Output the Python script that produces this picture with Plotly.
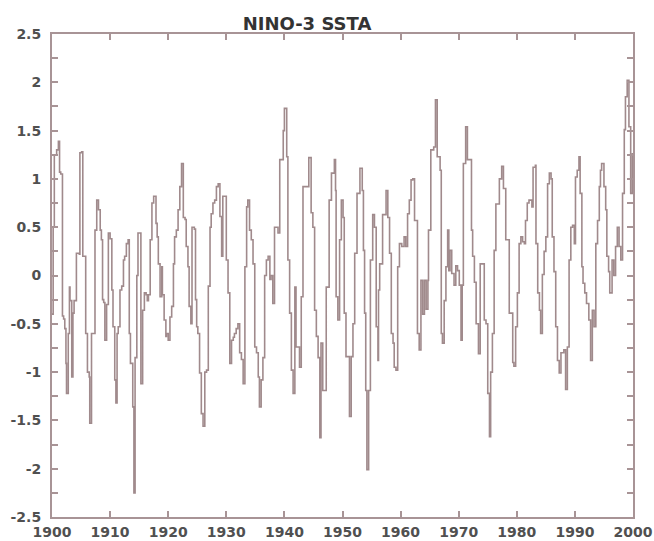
import plotly.graph_objects as go

years = [
    1900.0, 1900.2, 1900.4, 1900.8, 1901.1, 1901.3, 1901.5, 1901.8, 1902.0, 1902.2,
    1902.4, 1902.5, 1902.8, 1903.0, 1903.1, 1903.4, 1903.6, 1903.8, 1904.1, 1904.2,
    1904.7, 1904.8, 1905.1, 1905.3, 1905.7, 1905.8, 1906.1, 1906.4, 1906.5, 1906.8,
    1907.1, 1907.4, 1907.7, 1908.0, 1908.3, 1908.5, 1908.7, 1908.9, 1909.1, 1909.4,
    1909.7, 1910.0, 1910.3, 1910.5, 1910.8, 1911.0, 1911.2, 1911.4, 1911.7, 1912.0,
    1912.3, 1912.5, 1912.8, 1913.1, 1913.3, 1913.5, 1913.9, 1914.1, 1914.3, 1914.6,
    1914.8, 1915.1, 1915.3, 1915.6, 1915.9, 1916.2, 1916.4, 1916.6, 1916.9, 1917.2,
    1917.5, 1917.9, 1918.1, 1918.3, 1918.6, 1918.9, 1919.0, 1919.3, 1919.6,
    1919.7, 1920.0, 1920.3, 1920.6, 1920.9, 1921.1, 1921.4, 1921.7, 1922.0, 1922.3,
    1922.6, 1922.9, 1923.1, 1923.4, 1923.6, 1923.9, 1924.1, 1924.5, 1924.7, 1924.9,
    1925.1, 1925.4, 1925.7, 1926.0, 1926.3, 1926.6, 1926.9, 1927.2, 1927.4, 1927.7,
    1928.0, 1928.3, 1928.6, 1928.9, 1929.2, 1929.4, 1929.7, 1930.0, 1930.3, 1930.6,
    1930.9, 1931.2, 1931.4, 1931.7, 1932.0, 1932.3, 1932.6, 1932.9, 1933.2, 1933.5,
    1933.7, 1934.0, 1934.3, 1934.6, 1934.9, 1935.2, 1935.5, 1935.7, 1936.0, 1936.3,
    1936.6, 1936.9, 1937.2, 1937.5, 1937.7, 1938.0, 1938.3, 1938.6, 1938.9, 1939.2,
    1939.5, 1939.8, 1940.0, 1940.4, 1940.6, 1940.9, 1941.2, 1941.5, 1941.8, 1942.0,
    1942.6, 1942.9, 1943.2, 1943.8, 1944.2, 1944.6, 1944.9, 1945.2, 1945.5, 1945.8,
    1946.1, 1946.3, 1946.6, 1946.9, 1947.2, 1947.7, 1948.1, 1948.6, 1948.8, 1948.9,
    1949.2, 1949.5, 1949.8, 1950.1, 1950.3, 1950.6, 1950.9, 1951.2, 1951.5, 1951.8,
    1952.1, 1952.5, 1953.0, 1953.4, 1953.6, 1953.8, 1954.0, 1954.2, 1954.5, 1954.8,
    1955.2, 1955.5, 1955.8, 1956.1, 1956.2, 1956.4, 1956.9, 1957.5, 1957.8, 1958.1,
    1958.4, 1958.7, 1958.9, 1959.2, 1959.5, 1959.8, 1960.2, 1960.6, 1960.9, 1961.2,
    1961.5, 1961.8, 1962.1, 1962.4, 1962.7, 1962.9, 1963.2, 1963.5, 1963.8, 1964.1,
    1964.4, 1964.7, 1964.8, 1965.2, 1965.7, 1966.0, 1966.3, 1966.8, 1967.0, 1967.2,
    1967.5, 1967.8, 1968.1, 1968.3, 1968.5, 1968.8, 1969.2, 1969.5, 1969.8, 1970.1,
    1970.4, 1970.6, 1970.8, 1971.2, 1971.5, 1972.0, 1972.2, 1972.4, 1972.7, 1973.0,
    1973.4, 1973.7, 1974.1, 1974.4, 1974.7, 1975.0, 1975.3, 1975.5, 1975.8, 1976.1,
    1976.4, 1977.0, 1977.4, 1977.7, 1978.1, 1978.7, 1979.3, 1979.5, 1979.8, 1980.1,
    1980.4, 1980.7, 1981.0, 1981.3, 1981.5, 1981.8, 1982.1, 1982.6, 1982.8, 1983.2,
    1983.3, 1983.6, 1983.9, 1984.1, 1984.4, 1984.7, 1985.0, 1985.3, 1985.6, 1985.9,
    1986.1, 1986.4, 1986.7, 1987.0, 1987.3, 1987.6, 1987.9, 1988.1, 1988.4, 1988.7,
    1989.0, 1989.3, 1989.6, 1989.9, 1990.1, 1990.4, 1990.7, 1990.9, 1991.2, 1991.4,
    1991.7, 1992.0, 1992.4, 1992.7, 1993.0, 1993.3, 1993.6, 1993.9, 1994.2, 1994.4,
    1994.6, 1995.0, 1995.3, 1995.5, 1995.8, 1996.0, 1996.4, 1996.7, 1997.0, 1997.3,
    1997.6, 1997.9, 1998.2, 1998.5, 1998.7, 1999.0, 1999.3, 1999.6, 1999.9, 2000.0,
]

ssta = [
    -0.40, 0.50, 1.25, 1.30, 1.39, 1.07, 1.05, -0.42, -0.45, -0.55,
    -0.91, -1.22, -0.60, -0.12, -0.26, -1.05, -0.39, -0.26, -0.26, 0.23,
    0.22, 1.27, 1.28, 0.20, 0.20, -0.60, -1.00, -1.05, -1.53, -0.60,
    -0.60, 0.47, 0.78, 0.68, 0.47, 0.37, -0.25, -0.28, -0.67, -0.30,
    0.44, 0.38, -0.15, -0.53, -1.08, -1.32, -0.60, -0.53, -0.15, -0.11,
    0.16, 0.20, 0.33, 0.37, -0.60, -0.91, -1.36, -2.25, -0.85, 0.00,
    0.44, 0.44, -1.12, -0.36, -0.18, -0.20, -0.26, -0.20, 0.37, 0.75,
    0.82, 0.54, 0.40, 0.12, -0.22, 0.09, -0.20, -0.46, -0.63,
    -0.60, -0.67, -0.43, -0.32, 0.12, 0.40, 0.47, 0.68, 0.92, 1.16,
    0.60, 0.58, 0.30, 0.09, -0.32, -0.50, 0.50, 0.48, -0.25, -0.53,
    -0.60, -1.01, -1.43, -1.56, -1.00, -0.98, -0.11, 0.50, 0.64, 0.75,
    0.78, 0.92, 0.95, 0.61, 0.20, 0.82, 0.82, 0.16, -0.18, -0.91,
    -0.67, -0.64, -0.60, -0.55, -0.50, -0.80, -0.87, -1.12, 0.09, 0.71,
    0.78, 0.47, 0.37, 0.12, -0.74, -0.80, -1.05, -1.36, -1.08, -0.85,
    0.00, 0.16, 0.20, -0.04, 0.00, -0.29, 0.50, 0.50, 0.44, 1.20,
    1.20, 1.50, 1.73, 1.23, 0.16, -0.39, -0.98, -1.22, -0.12, -0.74,
    -0.95, -0.22, 0.92, 0.92, 1.22, 0.65, 0.50, -0.36, -0.63, -0.85,
    -1.68, -0.70, -1.19, -1.19, -0.12, 0.78, 1.06, 1.20, 0.88, -0.22,
    -0.46, 0.37, 0.78, 0.60, -0.39, -0.84, -0.84, -1.46, -0.84, -0.50,
    0.23, 0.85, 1.11, 0.88, 0.26, -0.39, -1.19, -2.01, -1.19, 0.16,
    0.63, 0.50, -0.53, -0.88, -0.15, 0.12, 0.63, 0.88, 0.60, 0.23,
    -0.60, -0.70, -0.95, -0.98, 0.09, 0.33, 0.30, 0.40, 0.30, 0.64,
    0.78, 0.99, 1.00, 0.57, 0.57, -0.60, -0.77, -0.05, -0.40, -0.05,
    -0.35, -0.05, 0.47, 1.30, 1.33, 1.82, 1.23, 1.09, -0.60, -0.70,
    -0.26, 0.09, 0.47, 0.05, 0.26, 0.02, -0.10, 0.10, 0.05, -0.10,
    -0.67, -0.10, 1.16, 1.54, 1.20, 1.20, 0.47, 0.20, -0.07, -0.50,
    -0.81, 0.12, 0.12, -0.46, -0.50, -1.22, -1.67, -1.00, -0.60, 0.26,
    0.74, 1.00, 1.13, 0.90, 0.37, -0.39, -0.90, -0.94, -0.53, -0.18,
    0.33, 0.40, 0.35, 0.33, 0.57, 0.75, 0.78, 0.71, 1.12, 1.14,
    0.33, -0.18, -0.36, -0.60, 0.01, 0.25, 0.40, 0.95, 1.06, 1.00,
    0.40, 0.04, -0.53, -0.88, -1.01, -0.80, -0.80, -0.77, -1.18, -0.74,
    0.16, 0.50, 0.52, 0.33, 1.02, 1.09, 1.23, 0.85, 0.09, -0.08,
    -0.18, -0.29, -0.46, -0.88, -0.36, -0.53, 0.33, 0.57, 0.92, 1.09,
    1.16, 0.92, 0.68, 0.20, 0.04, -0.18, 0.16, 0.00, 0.30, 0.50,
    0.30, 0.16, 0.85, 1.51, 1.85, 2.02, 1.54, 0.85, 1.26, 0.99,
]

x_ticks = [1900, 1910, 1920, 1930, 1940, 1950, 1960, 1970, 1980, 1990, 2000]
y_ticks = [2.5, 2, 1.5, 1, 0.5, 0, -0.5, -1, -1.5, -2, -2.5]
y_labels = ["2.5", "2", "1.5", "1", "0.5", "0", "-0.5", "-1", "-1.5", "-2", "-2.5"]

line_col = "#a08a8c"
frame_col = "#a89496"
text_col = "#505050"

W, H = 654, 541

fig = go.Figure()
fig.add_trace(go.Scatter(
    x=years, y=ssta, mode="lines",
    line=dict(color=line_col, width=1.6, shape="hv"),
    hoverinfo="skip", showlegend=False,
))

fig.update_layout(
    width=W, height=H,
    margin=dict(l=52, r=21, t=34, b=24),
    paper_bgcolor="white", plot_bgcolor="white",
    title=dict(
        text="NINO-3 SSTA",
        x=307 / W, xref="container", xanchor="center",
        y=1 - 24 / H, yref="container", yanchor="middle",
        font=dict(family="DejaVu Sans", size=18, color="#333333", weight="bold"),
    ),
    showlegend=False,
)

fig.update_xaxes(
    range=[1900, 2000], tickvals=x_ticks, ticktext=[str(v) for v in x_ticks],
    showgrid=False, zeroline=False, automargin=False,
    showline=True, linecolor=frame_col, linewidth=2, mirror="ticks",
    ticks="inside", ticklen=6, tickwidth=1.5, tickcolor=frame_col,
    tickfont=dict(family="DejaVu Sans", size=14, color=text_col, weight="bold"),
    ticklabelstandoff=1,
)
fig.update_yaxes(
    range=[-2.5, 2.5], tickvals=y_ticks, ticktext=y_labels,
    showgrid=False, zeroline=False, automargin=False,
    showline=True, linecolor=frame_col, linewidth=2, mirror="ticks",
    ticks="inside", ticklen=6, tickwidth=1.5, tickcolor=frame_col,
    minor=dict(dtick=0.25, tick0=0, ticks="inside", ticklen=6, tickwidth=1.5, tickcolor=frame_col, showgrid=False),
    tickfont=dict(family="DejaVu Sans", size=14, color=text_col, weight="bold"),
    ticklabelstandoff=6,
)

fig.write_html(
    "out.html",
    config={"displayModeBar": False},
    post_script="document.body.style.margin='0';document.body.style.overflow='hidden';",
)
